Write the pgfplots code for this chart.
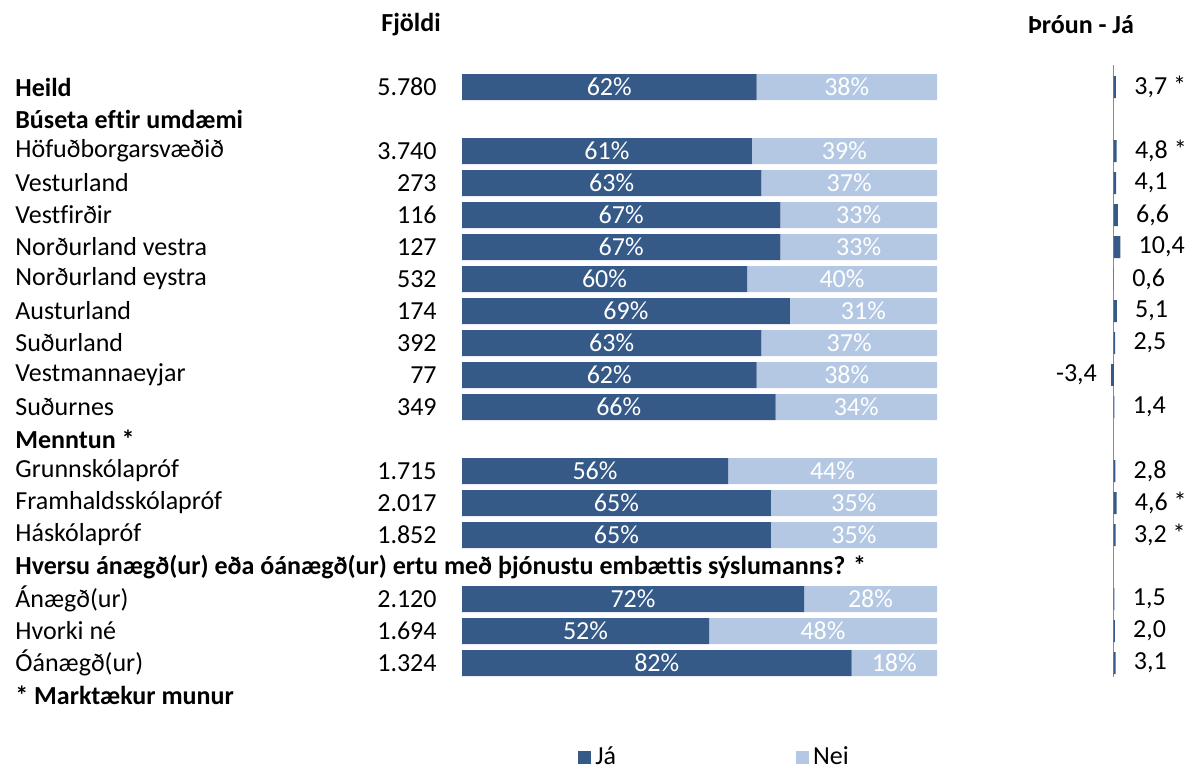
\documentclass[border=0pt]{standalone}
\usepackage{fontspec}
\setmainfont{Carlito}[Ligatures=NoCommon]
\usepackage{pgfplots}
\pgfplotsset{compat=1.18}
\usepackage{pgfplotstable}

\definecolor{ja}{RGB}{53,90,136}
\definecolor{nei}{RGB}{180,200,228}
\definecolor{axgray}{RGB}{140,140,140}

% rows: 0 = Heild ... 19 = footnote
\pgfplotstableread{
row ja nei
0 62 38
2 61 39
3 63 37
4 67 33
5 67 33
6 60 40
7 69 31
8 63 37
9 62 38
10 66 34
12 56 44
13 65 35
14 65 35
16 72 28
17 52 48
18 82 18
}\rows

\pgfplotstableread{
row trend lbl
0 3.7 {3,7 *}
2 4.8 {4,8 *}
3 4.1 {4,1}
4 6.6 {6,6}
5 10.4 {10,4}
6 0.6 {0,6}
7 5.1 {5,1}
8 2.5 {2,5}
10 1.4 {1,4}
12 2.8 {2,8}
13 4.6 {4,6 *}
14 3.2 {3,2 *}
16 1.5 {1,5}
17 2.0 {2,0}
18 3.1 {3,1}
}\trendpos

\pgfplotstableread{
row trend lbl
9 -3.4 {-3,4}
}\trendneg

\pgfplotsset{
  /pgf/number format/assume math mode=true,
  rowaxis/.style={
    scale only axis, width=237.5pt, height=320pt,
    at={(231pt,-355.5pt)}, anchor=south west,
    xmin=0, xmax=100, ymin=-0.5, ymax=19.5, y dir=reverse,
    enlargelimits=false,
    axis line style={draw=none}, tick style={draw=none},
    xtick=\empty, ytick={0,...,19},
    clip=false,
  },
}

\begin{document}
\fontsize{13}{15}\selectfont
\begin{tikzpicture}[font=\fontsize{13}{15}\selectfont]
\path[use as bounding box] (0pt,0pt) rectangle (596pt,-385pt);
\node[font=\fontsize{13}{15}\selectfont\bfseries] at (205.5pt,-12.5pt) {Fjöldi};
\node[font=\fontsize{13}{15}\selectfont\bfseries] at (540.5pt,-12.5pt) {Þróun - Já};

\begin{axis}[rowaxis,
  xbar stacked, bar width=13pt,
  yticklabels={\textbf{Heild},\textbf{Búseta eftir umdæmi},Höfuðborgarsvæðið,Vesturland,Vestfirðir,Norðurland vestra,Norðurland eystra,Austurland,Suðurland,Vestmannaeyjar,Suðurnes,\textbf{Menntun *},Grunnskólapróf,Framhaldsskólapróf,Háskólapróf,\textbf{Hversu ánægð(ur) eða óánægð(ur) ertu með þjónustu embættis sýslumanns? *},Ánægð(ur),Hvorki né,Óánægð(ur),\textbf{* Marktækur munur}},
  yticklabel style={anchor=west, xshift=-223.5pt, inner sep=0pt},
  legend columns=2,
  legend style={at={(0.244,-0.072)}, anchor=west, draw=none, inner sep=0pt,
    nodes={inner sep=2pt},
    /tikz/every even column/.append style={column sep=88pt}},
]
\addplot[fill=ja, draw=none,
  legend image code/.code={\fill[ja] (0pt,-3.25pt) rectangle (6.5pt,3.25pt);}]
  table[x=ja, y=row] \rows;
\addplot[fill=nei, draw=none,
  legend image code/.code={\fill[nei] (0pt,-3.25pt) rectangle (6.5pt,3.25pt);}]
  table[x=nei, y=row] \rows;
\legend{Já, Nei}
\end{axis}

\begin{axis}[rowaxis,
  yticklabels={5.780,,3.740,273,116,127,532,174,392,77,349,,1.715,2.017,1.852,,2.120,1.694,1.324,},
  yticklabel style={anchor=east, xshift=-12.5pt, inner sep=0pt},
]
\addplot[draw=none, point meta=explicit,
  nodes near coords={\pgfmathprintnumber{\pgfplotspointmeta}\%},
  nodes near coords style={anchor=center, text=white, inner sep=0pt}]
  table[x expr=\thisrow{ja}/2, y=row, meta=ja] \rows;
\addplot[draw=none, point meta=explicit,
  nodes near coords={\pgfmathprintnumber{\pgfplotspointmeta}\%},
  nodes near coords style={anchor=center, text=white, inner sep=0pt}]
  table[x expr=\thisrow{ja}+\thisrow{nei}/2, y=row, meta=nei] \rows;
\end{axis}

\begin{axis}[scale only axis, width=13pt, height=306pt,
  at={(550.25pt,-338.5pt)}, anchor=south west,
  xmin=-20, xmax=20, ymin=-0.6875, ymax=18.4375, y dir=reverse,
  enlargelimits=false,
  axis line style={draw=none}, tick style={draw=none},
  xtick=\empty, ytick=\empty, clip=false,
  xbar, bar width=11pt, bar shift=0pt,
]
\draw[axgray, line width=0.8pt] (axis cs:0,-0.6875) -- (axis cs:0,18.4375);
\addplot[fill=ja, draw=none, bar shift=0pt, point meta=explicit symbolic, nodes near coords,
  nodes near coords style={anchor=west, inner sep=0pt, xshift=9pt, text=black}]
  table[x=trend, y=row, meta=lbl] \trendpos;
\addplot[fill=ja, draw=none, bar shift=0pt, point meta=explicit symbolic, nodes near coords,
  nodes near coords style={anchor=east, inner sep=0pt, xshift=-7pt, text=black}]
  table[x=trend, y=row, meta=lbl] \trendneg;
\end{axis}
\end{tikzpicture}
\end{document}
